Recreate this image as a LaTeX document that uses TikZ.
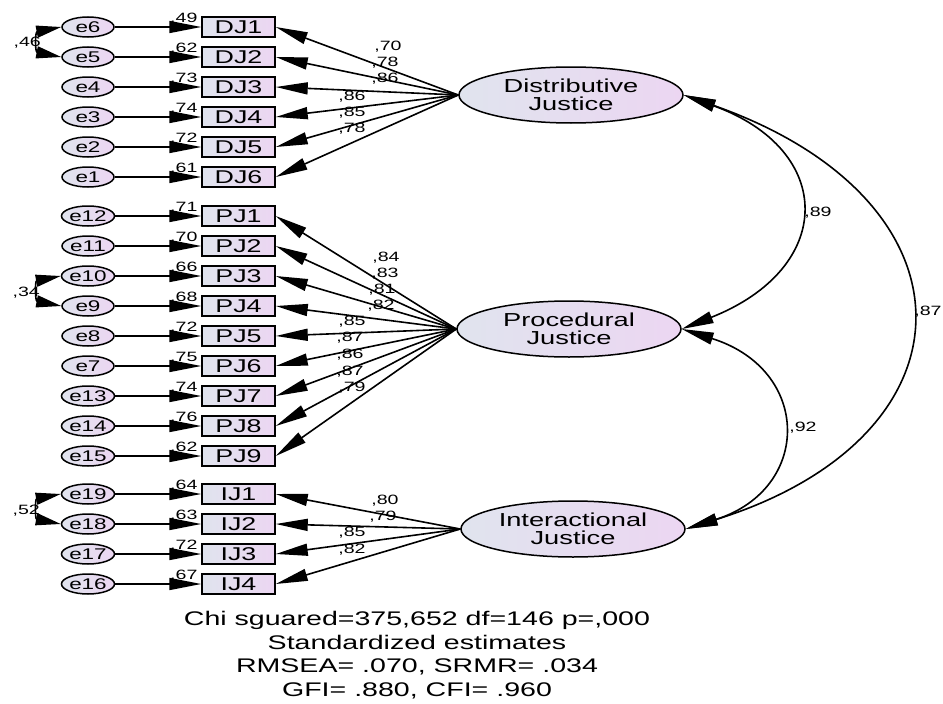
\documentclass[tikz,border=0pt]{standalone}
\usepackage{fontspec}
\setmainfont[FakeStretch=1.45]{Liberation Sans}
\usetikzlibrary{arrows.meta,shapes.geometric}
\definecolor{shA}{RGB}{224,228,238}
\definecolor{shB}{RGB}{236,214,242}
\tikzset{
 lat/.style={ellipse, draw, line width=1.5pt, minimum width=224pt, minimum height=56pt, inner sep=0pt, left color=shA, right color=shB, align=center, font=\fontsize{18.8}{18.5}\selectfont},
 obs/.style={rectangle, draw, line width=1.5pt, minimum width=73pt, minimum height=20pt, inner sep=0pt, left color=shA, right color=shB, font=\fontsize{18.5}{18}\selectfont},
 err/.style={ellipse, draw, line width=1.5pt, minimum width=52pt, minimum height=20pt, inner sep=0pt, left color=shA, right color=shB, font=\fontsize{15.5}{16}\selectfont},
 coef/.style={inner sep=0pt, font=\fontsize{13.5}{14}\selectfont},
 reg/.style={line width=1.6pt, -{Triangle[length=32pt,width=12pt]}},
 cov/.style={line width=1.6pt, {Triangle[length=32pt,width=12pt]}-{Triangle[length=32pt,width=12pt]}},
 ecov/.style={line width=1.6pt, {Triangle[length=25pt,width=12pt]}-{Triangle[length=25pt,width=12pt]}},
}
\begin{document}
\begin{tikzpicture}[x=1pt,y=-1pt]
\fill[white] (0,0) rectangle (943,704);
\useasboundingbox (0,0) rectangle (943,704);

% latent variables
\node[lat] (DJ) at (571,95) {Distributive\\Justice};
\node[lat] (PJ) at (569,329) {Procedural\\Justice};
\node[lat] (IJ) at (573,529) {Interactional\\Justice};

% Distributive justice indicators
\foreach \i/\e/\r/\l/\lx/\ly in {1/6/49/70/388/47, 2/5/62/78/385/63, 3/4/73/86/385/79, 4/3/74/86/352/97, 5/2/72/85/352/113, 6/1/61/78/352/129}{
  \node[obs] (DJ\i) at (238.5,{27+30*(\i-1)}) {DJ\i};
  \node[err] (e\e) at (88,{27+30*(\i-1)}) {e\e};
  \draw[reg] (e\e) -- (DJ\i);
  \draw[reg] (DJ.west) -- (DJ\i.east);
  \node[coef, anchor=base west] (rDJ\i) at (170,{27+30*(\i-1)-5}) {,\r};
  \node[coef] (lDJ\i) at (\lx,\ly) {,\l};
}

% Procedural justice indicators
\foreach \i/\e/\r/\l/\lx/\ly in {1/12/71/84/386/258, 2/11/70/83/385/274, 3/10/66/81/382/290, 4/9/68/82/381/306, 5/8/72/85/352/322, 6/7/75/87/350/338, 7/13/74/86/350/355, 8/14/76/87/350/372, 9/15/62/79/352/388}{
  \node[obs] (PJ\i) at (238.5,{216+30*(\i-1)}) {PJ\i};
  \node[err] (e\e) at (88,{216+30*(\i-1)}) {e\e};
  \draw[reg] (e\e) -- (PJ\i);
  \draw[reg] (PJ.west) -- (PJ\i.east);
  \node[coef, anchor=base west] (rPJ\i) at (170,{216+30*(\i-1)-5}) {,\r};
  \node[coef] (lPJ\i) at (\lx,\ly) {,\l};
}

% Interactional justice indicators
\foreach \i/\e/\r/\l/\lx/\ly in {1/19/64/80/385/501, 2/18/63/79/383/517, 3/17/72/85/352/533, 4/16/67/82/352/550}{
  \node[obs] (IJ\i) at (238.5,{494+30*(\i-1)}) {IJ\i};
  \node[err] (e\e) at (88,{494+30*(\i-1)}) {e\e};
  \draw[reg] (e\e) -- (IJ\i);
  \draw[reg] (IJ.west) -- (IJ\i.east);
  \node[coef, anchor=base west] (rIJ\i) at (170,{494+30*(\i-1)-5}) {,\r};
  \node[coef] (lIJ\i) at (\lx,\ly) {,\l};
}

% error covariances
\draw[ecov] (e6.west) .. controls (35,32) and (35,52) .. (e5.west);
\node[coef, anchor=east] (c46) at (41,43) {,46};
\draw[ecov] (e10.west) .. controls (35,281) and (35,301) .. (e9.west);
\node[coef, anchor=east] (c34) at (40,293) {,34};
\draw[ecov] (e19.west) .. controls (35,499) and (35,519) .. (e18.west);
\node[coef, anchor=east] (c52) at (40,511) {,52};

% latent covariances
\draw[cov] (DJ.east) .. controls (836,150) and (836,268) .. (PJ.east);
\draw[cov] (PJ.east) .. controls (812,370) and (812,489) .. (IJ.east);
\draw[cov] (DJ.east) .. controls (983,200) and (983,436) .. (IJ.east);
\node[coef] (c89) at (818,213) {,89};
\node[coef] (c92) at (803,428) {,92};
\node[coef] (c87) at (928,312) {,87};

% fit statistics
\node[font=\fontsize{19.7}{23.5}\selectfont, align=center, inner sep=0pt] (stats) at (417,655)
 {Chi sguared=375,652 df=146 p=,000\\Standardized estimates\\RMSEA= .070, SRMR= .034\\GFI= .880, CFI= .960};
\end{tikzpicture}
\end{document}
